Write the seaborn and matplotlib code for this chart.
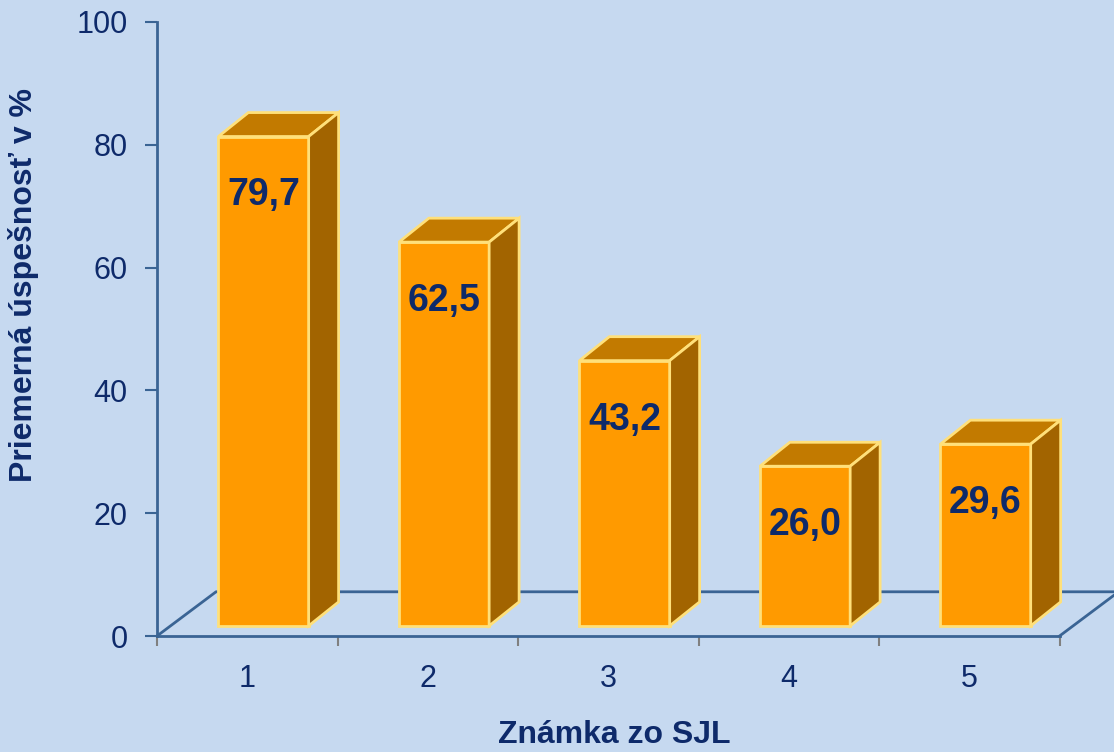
import matplotlib
matplotlib.use('Agg')
import matplotlib.pyplot as plt
import seaborn as sns
import pandas as pd
from matplotlib.patches import Polygon

# Data
grades = ['1', '2', '3', '4', '5']
success = [79.7, 62.5, 43.2, 26.0, 29.6]
value_labels = ['79,7', '62,5', '43,2', '26,0', '29,6']

# Colours
BG = '#C6D9F0'
FRONT = '#FF9A00'
TOP = '#C27A00'
SIDE = '#A26400'
EDGE = '#FFE07A'
NAVY = '#0E2A6A'
AXIS = '#3A6494'

# 3D look (data units)
FLOOR_DX, FLOOR_DY = 0.327, 7.2
BAR_OX, BAR_OY = 0.09, 1.65
BAR_DX, BAR_DY = 0.166, 3.9

plt.rcParams['font.family'] = ['Liberation Sans', 'DejaVu Sans']

AX_W = 967  # axes width in pixels
fig = plt.figure(figsize=(11.14, 7.52), dpi=100, facecolor=BG)
ax = fig.add_axes([157 / 1114, 116 / 752, AX_W / 1114, 614 / 752])
ax.set_facecolor('none')

df = pd.DataFrame({'grade': grades, 'success': success})
sns.barplot(data=df, x='grade', y='success', color=FRONT, saturation=1,
            width=0.5, errorbar=None, edgecolor=EDGE, linewidth=2,
            zorder=3, ax=ax)

# shift front faces and add top / side faces
bars = list(ax.patches)
for p, lab in zip(bars, value_labels):
    x0 = p.get_x() + BAR_OX
    w = p.get_width()
    h = p.get_height()
    p.set_x(x0)
    p.set_y(BAR_OY)
    y1 = BAR_OY + h
    top = Polygon([(x0, y1), (x0 + w, y1), (x0 + w + BAR_DX, y1 + BAR_DY),
                   (x0 + BAR_DX, y1 + BAR_DY)], closed=True,
                  facecolor=TOP, edgecolor=EDGE, linewidth=2, zorder=3)
    side = Polygon([(x0 + w, BAR_OY), (x0 + w, y1),
                    (x0 + w + BAR_DX, y1 + BAR_DY),
                    (x0 + w + BAR_DX, BAR_OY + BAR_DY)], closed=True,
                   facecolor=SIDE, edgecolor=EDGE, linewidth=2, zorder=3)
    ax.add_patch(top)
    ax.add_patch(side)
    ax.text(x0 + w / 2, y1 - 9.6, lab, ha='center', va='center',
            fontsize=27, fontweight='bold', color=NAVY, zorder=4)

# floor
ax.plot([-0.5, -0.5 + FLOOR_DX, 4.5 + FLOOR_DX], [0, FLOOR_DY, FLOOR_DY],
        color=AXIS, lw=2, zorder=1, clip_on=False)
ax.plot([4.5, 4.5 + FLOOR_DX], [0, FLOOR_DY], color=AXIS, lw=2, zorder=1,
        clip_on=False)

ax.set_xlim(-0.5, 4.5 + FLOOR_DX + 0.03)
ax.set_ylim(0, 100)

for s in ['top', 'right']:
    ax.spines[s].set_visible(False)
ax.spines['left'].set_color(AXIS)
ax.spines['left'].set_linewidth(2)
ax.spines['bottom'].set_color(AXIS)
ax.spines['bottom'].set_linewidth(2)
ax.spines['bottom'].set_bounds(-0.5, 4.5)

ax.set_yticks([0, 20, 40, 60, 80, 100])
ax.tick_params(axis='y', length=9, width=1.5, color=AXIS, labelsize=22,
               labelcolor=NAVY, pad=12)
ax.set_xticks([-0.5, 0.5, 1.5, 2.5, 3.5, 4.5], minor=True)
ax.tick_params(axis='x', which='minor', length=7, width=1.5, color='#808080')
ax.tick_params(axis='x', which='major', length=0, labelsize=22,
               labelcolor=NAVY, pad=20)

ax.set_xlabel('Známka zo SJL', fontsize=23, fontweight='bold', color=NAVY,
              va='center')
ax.xaxis.set_label_coords((614 - 157) / AX_W, (17 - 116) / 614)
ax.set_ylabel('Priemerná úspešnosť v %', fontsize=23, fontweight='bold',
              color=NAVY, va='center')
ax.yaxis.set_label_coords((24 - 157) / AX_W, (467 - 116) / 614)

fig.savefig('out.png', dpi=100, facecolor=BG)
